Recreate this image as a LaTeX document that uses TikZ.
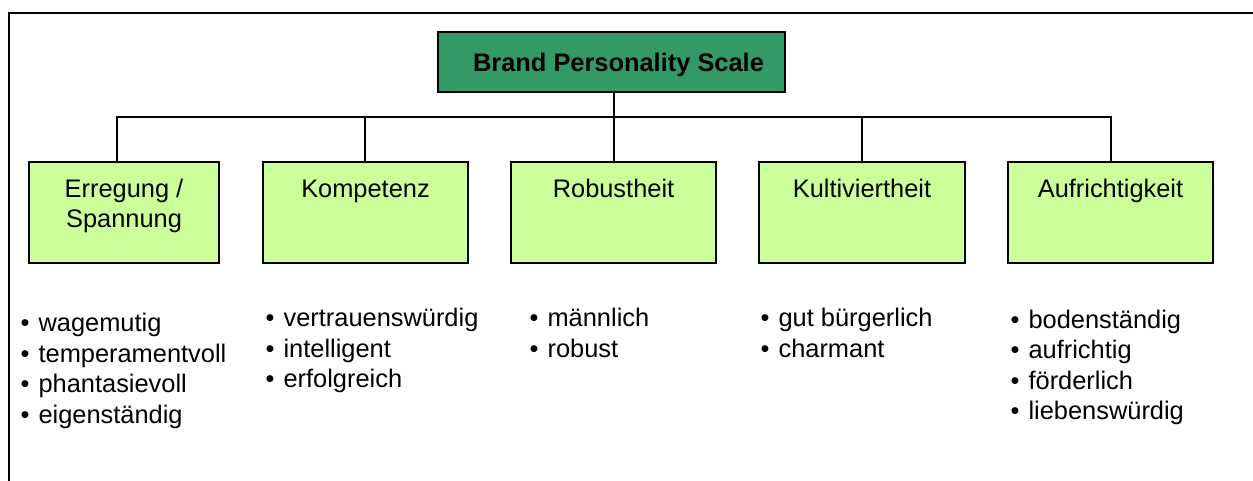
\documentclass[tikz,border=0pt]{standalone}
\usepackage{fontspec}
\setmainfont{Liberation Sans}
\definecolor{lightgreen}{HTML}{CCFF99}
\definecolor{darkgreen}{HTML}{339966}
\newcommand{\bpsfont}{\fontsize{25.4pt}{30.5pt}\selectfont}
\begin{document}
\begin{tikzpicture}[x=1pt,y=-1pt,
  catbox/.style={draw=black, line width=2pt, fill=lightgreen, minimum height=101pt, inner sep=0pt},
  topbox/.style={draw=black, line width=2pt, fill=darkgreen, minimum width=347pt, minimum height=60pt, inner sep=0pt},
  lbl/.style={anchor=base, inner sep=0pt, font=\bpsfont},
  lst/.style={anchor=base west, inner sep=0pt, font=\bpsfont},
  conn/.style={draw=black, line width=2pt}]
\useasboundingbox (0,0) rectangle (1253,480);
\draw[line width=2.2pt] (9,13) rectangle (1275,500);
% top box
\node[topbox] (top) at (611.5,62) {};
\node[lbl, font=\bpsfont\bfseries] (toptxt) at (618.5,71.7) {Brand Personality Scale};
% category boxes
\node[catbox, minimum width=190pt] (b1) at (124,212) {};
\node[catbox, minimum width=205pt] (b2) at (365.5,212) {};
\node[catbox, minimum width=205pt] (b3) at (613.5,212) {};
\node[catbox, minimum width=206pt] (b4) at (862,212) {};
\node[catbox, minimum width=205pt] (b5) at (1110.5,212) {};
\node[lbl] (t1) at (124,197) {\begin{tabular}[t]{@{}c@{}}Erregung /\\Spannung\end{tabular}};
\node[lbl] (t2) at (365.5,197) {Kompetenz};
\node[lbl] (t3) at (613.5,197) {Robustheit};
\node[lbl] (t4) at (862,197) {Kultiviertheit};
\node[lbl] (t5) at (1110.5,197) {Aufrichtigkeit};
% connectors
\coordinate (bus) at (0,117);
\draw[conn] (top.south -| b3.north) -- (b3.north);
\draw[conn] ([xshift=-7pt]b1.north) -- ([xshift=-7pt]b1.north |- bus) -- ([xshift=0.5pt]b5.north |- bus) -- ([xshift=0.5pt]b5.north);
\draw[conn] ([xshift=-0.5pt]b2.north) -- ([xshift=-0.5pt]b2.north |- bus);
\draw[conn] (b4.north) -- (b4.north |- bus);
% lists
\node[lst] (l1) at (20.5,331.7) {\begin{tabular}[t]{@{}l@{}}•\hspace{9pt}wagemutig\\•\hspace{9pt}temperamentvoll\\•\hspace{9pt}phantasievoll\\•\hspace{9pt}eigenständig\end{tabular}};
\node[lst] (l2) at (265.5,326.7) {\begin{tabular}[t]{@{}l@{}}•\hspace{9pt}vertrauenswürdig\\•\hspace{9pt}intelligent\\•\hspace{9pt}erfolgreich\end{tabular}};
\node[lst] (l3) at (529.5,326.7) {\begin{tabular}[t]{@{}l@{}}•\hspace{9pt}männlich\\•\hspace{9pt}robust\end{tabular}};
\node[lst] (l4) at (760.5,326.5) {\begin{tabular}[t]{@{}l@{}}•\hspace{9pt}gut bürgerlich\\•\hspace{9pt}charmant\end{tabular}};
\node[lst] (l5) at (1010.5,328) {\begin{tabular}[t]{@{}l@{}}•\hspace{9pt}bodenständig\\•\hspace{9pt}aufrichtig\\•\hspace{9pt}förderlich\\•\hspace{9pt}liebenswürdig\end{tabular}};
\end{tikzpicture}
\end{document}
